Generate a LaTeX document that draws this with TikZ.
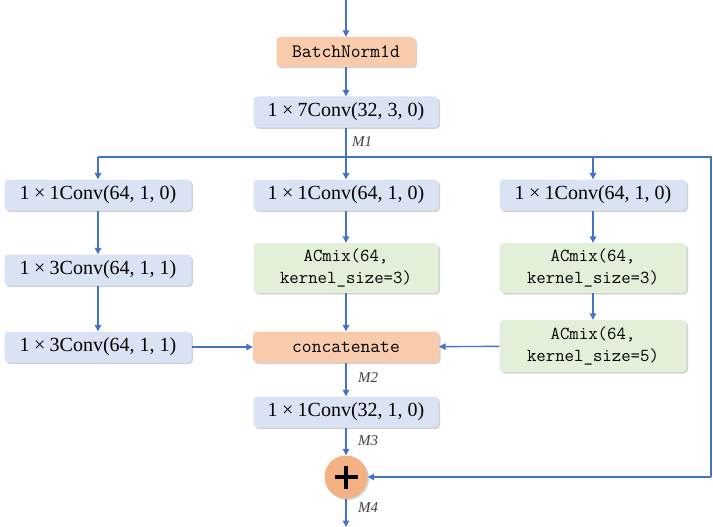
\documentclass[tikz,border=0pt]{standalone}
\usepackage{fontspec}
\setmainfont{Liberation Serif}
\usetikzlibrary{arrows.meta,shadows,calc}
\definecolor{lineblue}{HTML}{4472C4}
\definecolor{boxblue}{HTML}{DAE3F3}
\definecolor{boxgreen}{HTML}{E2F0D9}
\definecolor{salmon}{HTML}{F8CBAD}
\definecolor{circfill}{HTML}{F4B183}
\newcommand{\tms}{\hspace{0.22em}×\hspace{0.22em}}
\begin{document}
\begin{tikzpicture}[x=1pt,y=-1pt,
  every node/.style={font=\fontsize{20}{22}\selectfont},
  base/.style={rounded corners=4pt, draw=none, drop shadow={shadow xshift=1.5pt,shadow yshift=-1.5pt,opacity=0.35}, inner sep=0pt, align=center},
  bluebox/.style={base, fill=boxblue, minimum width=185pt, minimum height=31pt},
  greenbox/.style={base, fill=boxgreen, minimum width=185pt, minimum height=50pt, font=\ttfamily\fontsize{18.3}{22}\selectfont},
  salbox/.style={base, fill=salmon, minimum height=30pt, font=\ttfamily\fontsize{19}{20}\selectfont},
  conn/.style={draw=lineblue, line width=1.4pt, -{Triangle[length=6.5pt,width=6.5pt]}},
  plain/.style={draw=lineblue, line width=1.4pt},
  mlab/.style={font=\fontsize{15}{17}\selectfont\itshape, text=black!75}
]
\useasboundingbox (0,0) rectangle (713,527);
\coordinate (top) at (346,0);
\node[salbox, minimum width=139pt] (bn) at (346,52) {BatchNorm1d};
\node[bluebox] (c7) at (346,112) {1\tms 7Conv(32, 3, 0)};
\coordinate (split) at (346,157);
\coordinate (lsplit) at (98,157);
\coordinate (rsplit) at (593,157);
\coordinate (farr) at (711,157);
\node[mlab] (m1) at (362,142) {M1};
% left
\node[bluebox, minimum width=187pt] (l1) at (98,195) {1\tms 1Conv(64, 1, 0)};
\node[bluebox, minimum width=187pt] (l2) at (98,270) {1\tms 3Conv(64, 1, 1)};
\node[bluebox, minimum width=187pt] (l3) at (98,347) {1\tms 3Conv(64, 1, 1)};
% middle
\node[bluebox] (m1c) at (346,195) {1\tms 1Conv(64, 1, 0)};
\node[greenbox] (ma) at (346,268) {ACmix(64,\\kernel\_size=3)};
\node[salbox, minimum width=186pt, minimum height=31pt] (cat) at (346,347) {concatenate};
\node[bluebox] (c1) at (346,412) {1\tms 1Conv(32, 1, 0)};
\node[circle, fill=circfill, minimum size=43pt, inner sep=0pt, drop shadow={shadow xshift=1.5pt,shadow yshift=-1.5pt,opacity=0.35}] (add) at (346,477) {};
\draw[line width=4.2pt] ($(add.center)+(-11.5,0)$) -- ++(23,0) ($(add.center)+(0,-11.5)$) -- ++(0,23);
% right
\node[bluebox, minimum width=187pt] (r1) at (593,195) {1\tms 1Conv(64, 1, 0)};
\node[greenbox, minimum width=187pt] (ra) at (593,268) {ACmix(64,\\kernel\_size=3)};
\node[greenbox, minimum width=187pt, minimum height=52pt] (rb) at (593,346) {ACmix(64,\\kernel\_size=5)};
\coordinate (rend) at (711,477);
\coordinate (bot) at (346,527);
\node[mlab] (m2) at (368,378) {M2};
\node[mlab] (m3) at (368,441) {M3};
\node[mlab] (m4) at (368,508) {M4};
% connectors
\draw[conn] (top) -- (bn);
\draw[conn] (bn) -- (c7);
\draw[plain] (c7) -- (split);
\draw[plain] (lsplit) -- (farr) -- (rend);
\draw[conn] (rend) -- (add);
\draw[conn] (lsplit) -- (l1);
\draw[conn] (split) -- (m1c);
\draw[conn] (rsplit) -- (r1);
\draw[conn] (l1) -- (l2);
\draw[conn] (l2) -- (l3);
\draw[conn] (l3) -- (cat);
\draw[conn] (m1c) -- (ma);
\draw[conn] (ma) -- (cat);
\draw[conn] (r1) -- (ra);
\draw[conn] (ra) -- (rb);
\draw[conn] (rb) -- (cat);
\draw[conn] (cat) -- (c1);
\draw[conn] (c1) -- (add);
\draw[conn] (add) -- (bot);
\end{tikzpicture}
\end{document}
